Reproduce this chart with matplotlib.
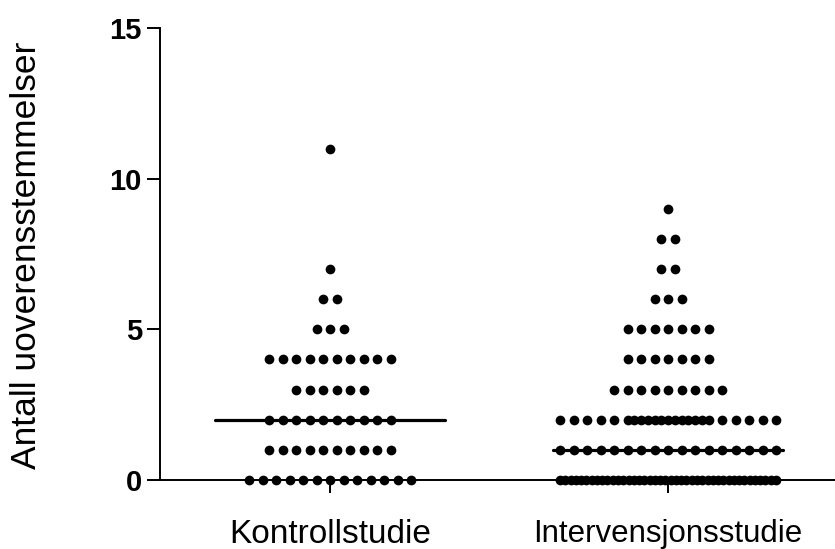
import numpy as np
import matplotlib
matplotlib.use("Agg")
import matplotlib.pyplot as plt

plt.rcParams["font.family"] = ["Liberation Sans", "DejaVu Sans"]

# counts of subjects per number of discrepancies
groups = ["Kontrollstudie", "Intervensjonsstudie"]
control_values = [0, 1, 2, 3, 4, 5, 6, 7, 11]
control_counts = [13, 10, 10, 6, 10, 3, 2, 1, 1]
interv_values = [0, 1, 2, 3, 4, 5, 6, 7, 8, 9]
interv_counts = [42, 17, 23, 9, 7, 7, 3, 2, 2, 1]

y_ticks = [0, 5, 10, 15]
y_label = "Antall uoverensstemmelser"

SPACING = 13.5 / 338.0     # dot spacing in data units
MAX_WIDTH = 216.0 / 338.0  # widest row in data units


def row_offsets(n):
    # prism-style dot layout: centred row, squeezed when it gets too wide
    if (n - 1) * SPACING <= MAX_WIDTH + 1e-9:
        return (np.arange(n) - (n - 1) / 2.0) * SPACING
    slots = int(round(MAX_WIDTH / SPACING)) + 1
    k = max(0, (2 * slots - n) // 2)
    slot_x = (np.arange(slots) - (slots - 1) / 2.0) * SPACING
    left = slot_x[:k]
    right = slot_x[slots - k:]
    mid = np.linspace(slot_x[k], slot_x[slots - 1 - k], n - 2 * k)
    return np.concatenate([left, mid, right])


fig = plt.figure(figsize=(8.35, 5.49), dpi=100)
ax = fig.add_axes([160 / 835, 1 - 480 / 549, 1 - 160 / 835, (480 - 28) / 549])

for gi, (vals, counts) in enumerate([(control_values, control_counts),
                                     (interv_values, interv_counts)]):
    data = np.repeat(vals, counts)
    med = np.median(data)
    ax.plot([gi - 0.34, gi + 0.34], [med, med], color="black", lw=2.3,
            solid_capstyle="round", zorder=2, clip_on=False)
    for v, c in zip(vals, counts):
        xs = gi + row_offsets(c)
        ax.plot(xs, np.full(c, v), "o", color="black", ms=7, mew=0,
                zorder=3, clip_on=False)

ax.set_xlim(-0.503, 1.494)
ax.set_ylim(0, 15)
ax.set_yticks(y_ticks)
ax.set_yticklabels([str(t) for t in y_ticks], fontsize=21, fontweight="bold")
ax.set_xticks([0, 1])
ax.set_xticklabels(groups)
for lbl, fs in zip(ax.get_xticklabels(), [24, 22.5]):
    lbl.set_fontsize(fs)
ax.tick_params(axis="y", length=9.5, width=1.4, pad=3.5)
ax.tick_params(axis="x", length=9, width=1.4, pad=19)

for side in ["top", "right"]:
    ax.spines[side].set_visible(False)
for side in ["left", "bottom"]:
    ax.spines[side].set_linewidth(1.4)

fig.text(27 / 835, 1 - 255 / 549, y_label, fontsize=25.5, rotation=90,
         ha="center", va="center")

fig.savefig("out.png", dpi=100)
